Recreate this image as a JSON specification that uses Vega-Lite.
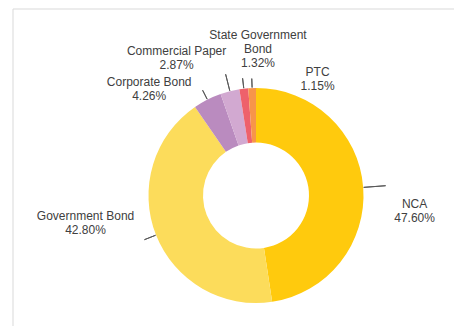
{
  "$schema": "https://vega.github.io/schema/vega-lite/v6.json",
  "autosize": {"type": "none"},
  "padding": {"left": 12.5, "top": 8.5, "right": 0, "bottom": 0},
  "width": 487,
  "height": 374,
  "view": {"stroke": "#d9d9d9", "strokeWidth": 1},
  "config": {
    "view": {"stroke": "#d9d9d9", "strokeWidth": 1},
    "text": {"font": "Liberation Sans", "fontSize": 12, "fill": "#404040", "align": "center", "baseline": "middle", "lineHeight": 14}
  },
  "data": {
    "values": [
      {"name": "NCA", "share": 0.476},
      {"name": "Government Bond", "share": 0.428},
      {"name": "Corporate Bond", "share": 0.0426},
      {"name": "Commercial Paper", "share": 0.0287},
      {"name": "State Government Bond", "share": 0.0132},
      {"name": "PTC", "share": 0.0115}
    ]
  },
  "transform": [
    {"stack": "share", "groupby": [], "as": ["s0", "s1"]}
  ],
  "layer": [
    {
      "mark": {"type": "arc", "radius": 107.5, "radius2": 53},
      "encoding": {
        "theta": {"field": "s0", "type": "quantitative", "scale": {"domain": [0, 1]}},
        "theta2": {"field": "s1"},
        "color": {
          "field": "name",
          "type": "nominal",
          "legend": null,
          "scale": {
            "domain": ["NCA", "Government Bond", "Corporate Bond", "Commercial Paper", "State Government Bond", "PTC"],
            "range": ["#FFCA0D", "#FCDC5B", "#BA8BBF", "#D2A9D1", "#EE616B", "#F7954A"]
          }
        }
      }
    },
    {
      "transform": [
        {"fold": ["s0", "s1"], "as": ["edge", "pos"]},
        {"aggregate": [{"op": "mean", "field": "pos", "as": "mid"}], "groupby": ["name", "share"]}
      ],
      "layer": [
        {
          "transform": [{"filter": "datum.name === 'NCA'"}],
          "layer": [
            {"mark": {"type": "arc", "radius": 130, "radius2": 108, "filled": false, "stroke": "#595959", "strokeWidth": 1},
             "encoding": {"theta": {"field": "mid", "type": "quantitative"}, "theta2": {"field": "mid"}}},
            {"mark": {"type": "text", "radius": 150, "dx": 9, "dy": 19.5, "text": {"expr": "[datum.name, format(datum.share, '.2%')]"}},
             "encoding": {"theta": {"field": "mid", "type": "quantitative"}}}
          ]
        },
        {
          "transform": [{"filter": "datum.name === 'Government Bond'"}],
          "layer": [
            {"mark": {"type": "arc", "radius": 120, "radius2": 108, "filled": false, "stroke": "#595959", "strokeWidth": 1},
             "encoding": {"theta": {"field": "mid", "type": "quantitative"}, "theta2": {"field": "mid"}}},
            {"mark": {"type": "text", "radius": 150, "dx": -31, "dy": -34.5, "text": {"expr": "[datum.name, format(datum.share, '.2%')]"}},
             "encoding": {"theta": {"field": "mid", "type": "quantitative"}}}
          ]
        },
        {
          "transform": [{"filter": "datum.name === 'Corporate Bond'"}],
          "layer": [
            {"mark": {"type": "arc", "radius": 118, "radius2": 108, "filled": false, "stroke": "#595959", "strokeWidth": 1},
             "encoding": {"theta": {"field": "mid", "type": "quantitative"}, "theta2": {"field": "mid"}}},
            {"mark": {"type": "text", "radius": 150, "dx": -39, "dy": 20.5, "text": {"expr": "[datum.name, format(datum.share, '.2%')]"}},
             "encoding": {"theta": {"field": "mid", "type": "quantitative"}}}
          ]
        },
        {
          "transform": [{"filter": "datum.name === 'Commercial Paper'"}],
          "layer": [
            {"mark": {"type": "arc", "radius": 125, "radius2": 108, "filled": false, "stroke": "#595959", "strokeWidth": 1},
             "encoding": {"theta": {"field": "mid", "type": "quantitative"}, "theta2": {"field": "mid"}}},
            {"mark": {"type": "text", "radius": 150, "dx": -43, "dy": 1.5, "text": {"expr": "[datum.name, format(datum.share, '.2%')]"}},
             "encoding": {"theta": {"field": "mid", "type": "quantitative"}}}
          ]
        },
        {
          "transform": [{"filter": "datum.name === 'State Government Bond'"}],
          "layer": [
            {"mark": {"type": "arc", "radius": 118, "radius2": 108, "filled": false, "stroke": "#595959", "strokeWidth": 1},
             "encoding": {"theta": {"field": "mid", "type": "quantitative"}, "theta2": {"field": "mid"}}},
            {"mark": {"type": "text", "radius": 150, "dx": 19, "dy": -11.5, "text": {"expr": "[slice(datum.name, 0, 16), slice(datum.name, 17), format(datum.share, '.2%')]"}},
             "encoding": {"theta": {"field": "mid", "type": "quantitative"}}}
          ]
        },
        {
          "transform": [{"filter": "datum.name === 'PTC'"}],
          "layer": [
            {"mark": {"type": "arc", "radius": 117, "radius2": 108, "filled": false, "stroke": "#595959", "strokeWidth": 1},
             "encoding": {"theta": {"field": "mid", "type": "quantitative"}, "theta2": {"field": "mid"}}},
            {"mark": {"type": "text", "radius": 150, "dx": 67, "dy": 26.5, "text": {"expr": "[datum.name, format(datum.share, '.2%')]"}},
             "encoding": {"theta": {"field": "mid", "type": "quantitative"}}}
          ]
        }
      ]
    }
  ]
}
